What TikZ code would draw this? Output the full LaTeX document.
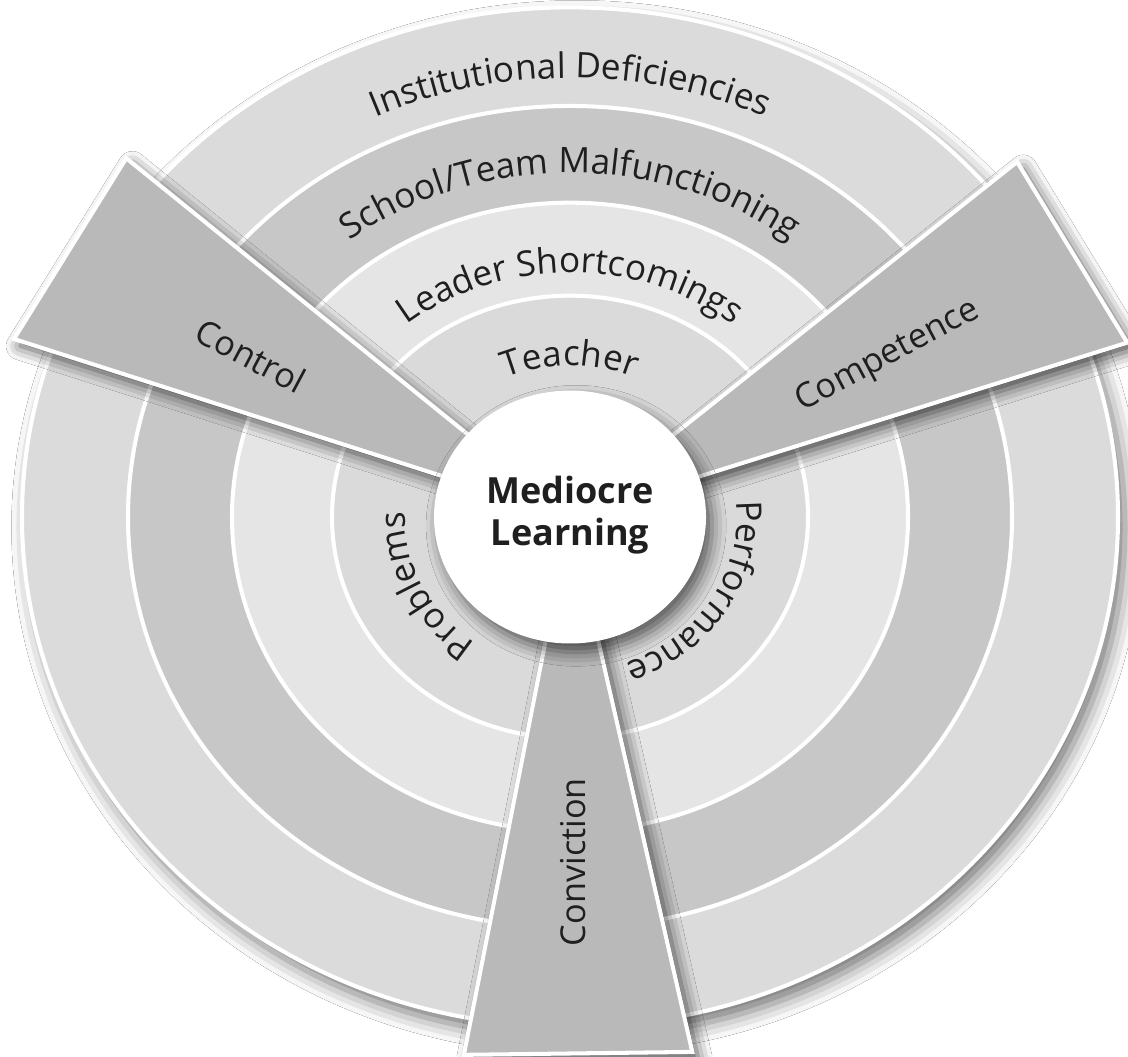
\documentclass[tikz,border=0pt]{standalone}
\usepackage{fontspec}
\setmainfont{Open Sans}
\newfontfamily\centrefamily{Open Sans}
\usepackage{tikz}
\usetikzlibrary{decorations.text, shadows.blur}
\definecolor{outerband}{gray}{0.86}
\definecolor{secondband}{gray}{0.78}
\definecolor{thirdband}{gray}{0.90}
\definecolor{innerband}{gray}{0.855}
\definecolor{wedgegrey}{gray}{0.725}
\definecolor{labeltext}{gray}{0.12}
\newcommand{\ringfont}{\fontsize{20}{24}\selectfont}
\newcommand{\wedgefont}{\fontsize{19.5}{23}\selectfont}
\newcommand{\centrefont}{\centrefamily\bfseries\fontsize{20.5}{24}\selectfont}
\tikzset{band/.style={fill=#1, draw=white, line width=2.3pt}}
\tikzset{wedge/.style={fill=wedgegrey, draw=white, line width=2.3pt, blur shadow={shadow xshift=3.5pt, shadow yshift=-4pt, shadow blur radius=8pt, shadow opacity=70}}}
\tikzset{ringlabel/.style={decorate, decoration={text along path, text align=center, text color=labeltext, text={|\ringfont|#1}}}}
\tikzset{wedgelabel/.style={font=\wedgefont, text=labeltext}}
\newcommand{\fwedge}[2]{\draw[wedge] (0,0) -- (#1:588) -- (#2:588) -- cycle;}
\newcommand{\fring}[4]{\path[ringlabel={#4}] (#1:#3) arc[start angle=#1, end angle=#2, radius=#3];}

\begin{document}
\begin{tikzpicture}[x=0.02cm, y=0.02cm]
\useasboundingbox (0,0) rectangle (1128,-1056);
\fill[white] (0,0) rectangle (1128,-1056);
\begin{scope}[shift={(570,-517)}, yscale=0.93]
\fill[outerband, blur shadow={shadow xshift=4pt, shadow yshift=-6pt, shadow blur radius=10pt, shadow opacity=55}] (0,0) circle (548);
\draw[band=outerband] (0,0) circle (548);
\draw[band=secondband] (0,0) circle (442);
\draw[band=thirdband] (0,0) circle (338);
\draw[band=innerband] (0,0) circle (238);
\fwedge{139}{161} \fwedge{18.6}{40.5} \fwedge{259.6}{282}
\fill[white, blur shadow={shadow xshift=3.5pt, shadow yshift=-5pt, shadow blur radius=8pt, shadow opacity=60}] (0,0) circle (136);
\node[align=center, font=\centrefont, text=labeltext] (centre) at (0,2) {Mediocre\\Learning};
\fring{130}{50}{472}{Institutional Deficiencies}
\fring{150}{30}{370}{School/Team Malfunctioning}
\fring{140}{40}{263}{Leader Shortcomings}
\fring{135}{45}{163}{Teacher}
\fring{256}{156}{165}{Problems}
\fring{18}{-82}{167}{Performance}
\node[wedgelabel, rotate=-28] (control) at (151.5:363) {Control};
\node[wedgelabel, rotate=28] (competence) at (28.5:362) {Competence};
\node[wedgelabel, rotate=90] (conviction) at (270.5:371) {Conviction};
\end{scope}
\end{tikzpicture}
\end{document}
